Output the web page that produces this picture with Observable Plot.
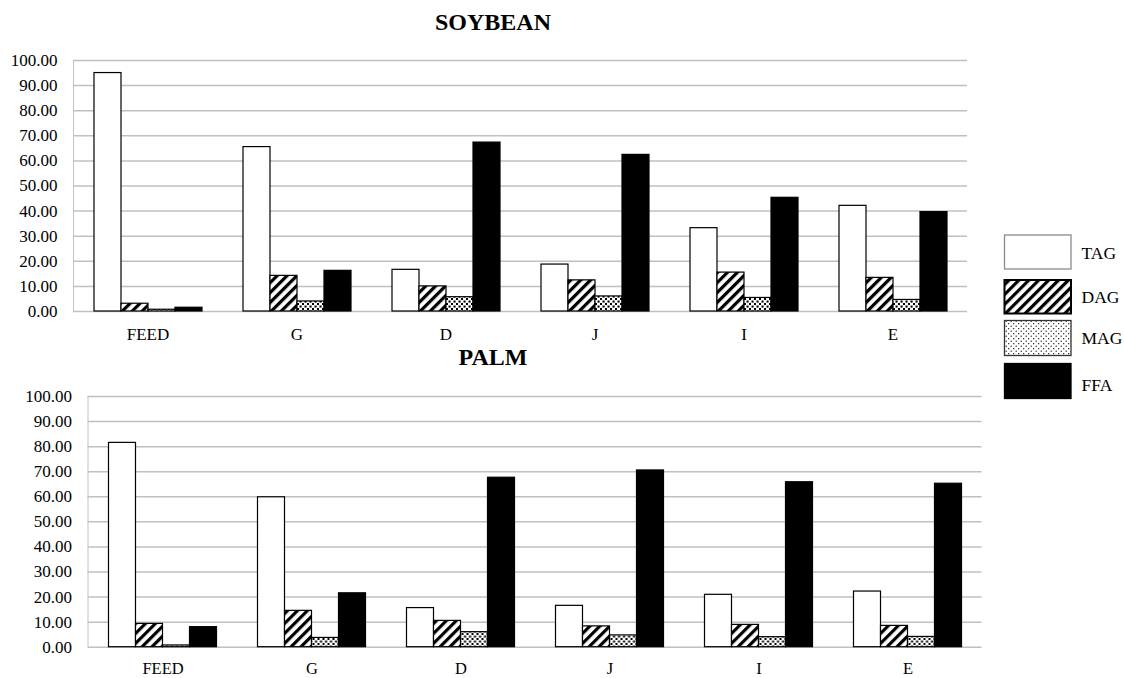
<!DOCTYPE html>
<html>
<head>
<meta charset="utf-8">
<script src="https://cdn.jsdelivr.net/npm/d3@7"></script>
<script src="https://cdn.jsdelivr.net/npm/@observablehq/plot@0.6"></script>
<style>
  html, body { margin: 0; padding: 0; background: #fff; }
  body { width: 1124px; height: 678px; position: relative; overflow: hidden; font-family: "Liberation Serif", "Times New Roman", serif; }
  .layer { position: absolute; left: 0; }
  .layer svg { display: block; }
</style>
</head>
<body>
<svg width="0" height="0" style="position:absolute">
  <defs>
    <pattern id="pDAG" patternUnits="userSpaceOnUse" width="7" height="7" patternTransform="rotate(45)">
      <rect width="7" height="7" fill="white"/>
      <rect x="0" y="0" width="3.2" height="7" fill="black"/>
    </pattern>
    <pattern id="pMAG" patternUnits="userSpaceOnUse" width="5" height="5">
      <rect width="5" height="5" fill="white"/>
      <rect x="0.5" y="0.5" width="2.1" height="2.1" fill="black"/>
      <rect x="3" y="3" width="2.1" height="2.1" fill="black"/>
    </pattern>
    <pattern id="pMAGlegend" patternUnits="userSpaceOnUse" width="5" height="5">
      <rect width="5" height="5" fill="white"/>
      <circle cx="1.2" cy="1.2" r="0.65" fill="black"/>
      <circle cx="3.7" cy="3.7" r="0.65" fill="black"/>
    </pattern>
  </defs>
</svg>
<div id="top" class="layer" style="top:45px"></div>
<div id="bottom" class="layer" style="top:380px"></div>
<div id="overlay" class="layer" style="top:0"></div>
<script>
// ---- data ----
const categories = ["FEED", "G", "D", "J", "I", "E"];
const series = ["TAG", "DAG", "MAG", "FFA"];
const yTicks = [0, 10, 20, 30, 40, 50, 60, 70, 80, 90, 100];

const soyTAG = [95.0, 65.5, 16.6, 18.7, 33.2, 42.1];
const soyDAG = [3.1, 14.2, 10.0, 12.4, 15.5, 13.4];
const soyMAG = [0.7, 4.0, 5.7, 6.0, 5.4, 4.6];
const soyFFA = [1.5, 16.2, 67.3, 62.4, 45.3, 39.6];

const palmTAG = [81.5, 59.8, 15.6, 16.5, 20.9, 22.2];
const palmDAG = [9.3, 14.5, 10.5, 8.3, 8.9, 8.5];
const palmMAG = [0.7, 3.7, 6.0, 4.7, 4.0, 4.1];
const palmFFA = [8.0, 21.5, 67.6, 70.5, 65.8, 65.2];

const fills = ["white", "url(#pDAG)", "url(#pMAG)", "black"];
const legendFills = ["white", "url(#pDAG)", "url(#pMAGlegend)", "black"];
const legendStrokes = ["#8a8a8a", "black", "#333", "black"];

function makeRows(vals) {
  return categories.flatMap((c, i) => series.map((s, j) => ({cat: c, series: s, value: vals[j][i]})));
}

function chart(el, {height, mt, mb, ml, mr, pad, fxFont, vals}) {
  const data = makeRows(vals);
  const common = {
    width: 1124, height,
    marginTop: mt, marginBottom: mb, marginLeft: ml, marginRight: mr,
    style: {background: "transparent", fontFamily: "Liberation Serif, Times New Roman, serif", fontSize: "17px", color: "black", overflow: "visible"}
  };
  const bg = Plot.plot({
    ...common,
    x: {domain: [0, 1], axis: null},
    y: {domain: [0, 100], ticks: 10, tickFormat: d => d.toFixed(2), tickSize: 0, tickPadding: 16, label: null},
    marks: [
      Plot.ruleY(yTicks, {stroke: "#c0c0c0", strokeWidth: 1.5}),
      Plot.ruleX([0], {y1: 0, y2: 100, stroke: "#c4c4c4", strokeWidth: 1})
    ]
  });
  const fg = Plot.plot({
    ...common,
    style: {...common.style, fontSize: fxFont},
    x: {domain: series, padding: 0, axis: null},
    y: {domain: [0, 100], axis: null},
    fx: {domain: categories, paddingInner: 0.27, paddingOuter: 0.135, label: null, tickSize: 0, tickPadding: pad, axis: "bottom"},
    color: {domain: series, range: fills},
    marks: [
      Plot.barY(data, {fx: "cat", x: "series", y: "value", fill: "series", stroke: "black", strokeWidth: 1.2})
    ]
  });
  bg.style.position = "absolute"; bg.style.left = "0"; bg.style.top = "0";
  fg.style.position = "absolute"; fg.style.left = "0"; fg.style.top = "0";
  el.style.height = height + "px";
  el.style.width = "1124px";
  el.append(bg, fg);
}

chart(document.getElementById("top"), {
  height: 300, mt: 15, mb: 34, ml: 73, mr: 157, pad: 16, fxFont: "17px",
  vals: [soyTAG, soyDAG, soyMAG, soyFFA]
});
chart(document.getElementById("bottom"), {
  height: 298, mt: 16, mb: 31.3, ml: 87.5, mr: 142.5, pad: 15, fxFont: "16.5px",
  vals: [palmTAG, palmDAG, palmMAG, palmFFA]
});

// ---- titles and legend ----
const ov = d3.select("#overlay").append("svg")
  .attr("width", 1124).attr("height", 678)
  .style("font-family", "Liberation Serif, Times New Roman, serif");
ov.append("text").attr("x", 493).attr("y", 29.5).attr("text-anchor", "middle")
  .attr("font-size", 24).attr("font-weight", "bold").text("SOYBEAN");
ov.append("text").attr("x", 493).attr("y", 365).attr("text-anchor", "middle")
  .attr("font-size", 24).attr("font-weight", "bold").text("PALM");

const legendTop = [235, 280, 320.5, 363.5];
const legendH = [34, 33.5, 35, 35];
const legendBase = [259, 303.3, 344, 390.5];
series.forEach((s, i) => {
  ov.append("rect").attr("x", 1004.5).attr("y", legendTop[i]).attr("width", 66.5).attr("height", legendH[i])
    .attr("fill", legendFills[i]).attr("stroke", legendStrokes[i]).attr("stroke-width", i === 1 ? 2 : 1.3);
  ov.append("text").attr("x", 1081.5).attr("y", legendBase[i]).attr("font-size", 17.5).text(s);
});
</script>
</body>
</html>
